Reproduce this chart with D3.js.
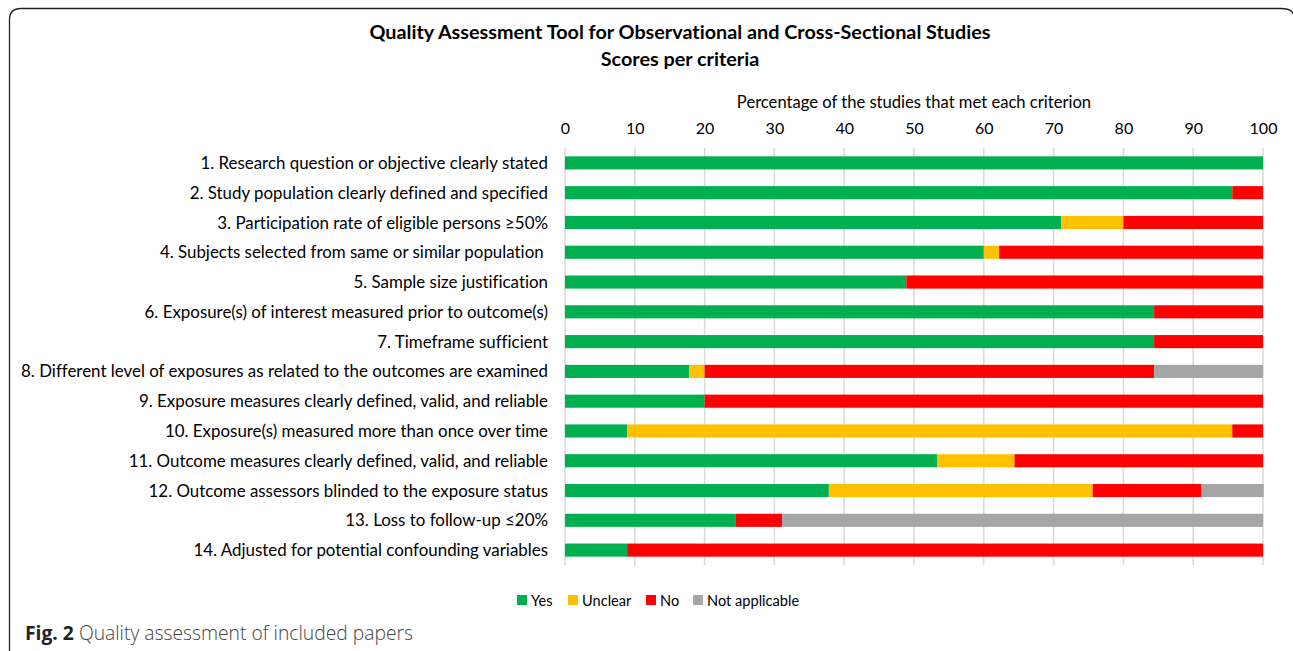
<!DOCTYPE html>
<html>
<head>
<meta charset="utf-8">
<script src="https://cdn.jsdelivr.net/npm/d3@7"></script>
<style>
  body { margin: 0; background: #fff; }
  svg { display: block; font-family: Lato, "Open Sans", sans-serif; font-variant-ligatures: none; }
</style>
</head>
<body>
<div id="chart"></div>
<script>
// criteria (y categories)
var criteria = [
  "1. Research question or objective clearly stated",
  "2. Study population clearly defined and specified",
  "3. Participation rate of eligible persons \u226550%",
  "4. Subjects selected from same or similar population ",
  "5. Sample size justification",
  "6. Exposure(s) of interest measured prior to outcome(s)",
  "7. Timeframe sufficient",
  "8. Different level of exposures as related to the outcomes are examined",
  "9. Exposure measures clearly defined, valid, and reliable",
  "10. Exposure(s) measured more than once over time",
  "11. Outcome measures clearly defined, valid, and reliable",
  "12. Outcome assessors blinded to the exposure status",
  "13. Loss to follow-up \u226420%",
  "14. Adjusted for potential confounding variables"
];

// series values (percent of studies)
var yesVals     = [100, 95.6, 71.1, 60.0, 48.9, 84.4, 84.4, 17.8, 20.0, 8.9, 53.3, 37.8, 24.4, 8.9];
var unclearVals = [0,   0,    8.9,  2.2,  0,    0,    0,    2.2,  0,    86.7, 11.1, 37.8, 0,  0];
var noVals      = [0,   4.4,  20.0, 37.8, 51.1, 15.6, 15.6, 64.4, 80.0, 4.4,  35.6, 15.6, 6.7, 91.1];
var naVals      = [0,   0,    0,    0,    0,    0,    0,    15.6, 0,    0,    0,    8.9,  68.9, 0];

var seriesNames = ["Yes", "Unclear", "No", "Not applicable"];
var seriesColors = ["#00b050", "#ffc000", "#ff0000", "#a6a6a6"];
var xTicks = [0, 10, 20, 30, 40, 50, 60, 70, 80, 90, 100];

var W = 1293, H = 651;

var svg = d3.select("#chart").append("svg")
    .attr("width", W)
    .attr("height", H);

// outer frame
svg.append("path")
    .attr("d", "M9.5,651 L9.5,20 Q9.5,8.5 21,8.5 L1280,8.5 Q1292,8.5 1293,14")
    .attr("fill", "none")
    .attr("stroke", "#222")
    .attr("stroke-width", 1.3);

// title
svg.append("text")
    .attr("x", 680).attr("y", 39)
    .attr("text-anchor", "middle")
    .style("font-weight", "bold")
    .style("font-size", "19.8px")
    .text("Quality Assessment Tool for Observational and Cross-Sectional Studies");
svg.append("text")
    .attr("x", 680).attr("y", 66)
    .attr("text-anchor", "middle")
    .style("font-weight", "bold")
    .style("font-size", "19.8px")
    .text("Scores per criteria");

// build stacked table
var table = criteria.map(function(c, i) {
  return { crit: c, "Yes": yesVals[i], "Unclear": unclearVals[i], "No": noVals[i], "Not applicable": naVals[i] };
});
var stacked = d3.stack().keys(seriesNames)(table);

var x = d3.scaleLinear().domain([0, 100]).range([565, 1263]);
var y = d3.scaleBand().domain(criteria).range([148, 565])
    .paddingInner(0.56).paddingOuter(0.28);
var color = d3.scaleOrdinal().domain(seriesNames).range(seriesColors);

// gridlines
svg.append("g")
    .selectAll("line")
    .data(xTicks)
  .enter().append("line")
    .attr("x1", function(d) { return x(d); })
    .attr("x2", function(d) { return x(d); })
    .attr("y1", 148).attr("y2", 565)
    .attr("stroke", "#d9d9d9")
    .attr("stroke-width", 1.5);

// x axis on top
var xAxis = svg.append("g")
    .attr("transform", "translate(0,148)")
    .call(d3.axisTop(x).tickValues(xTicks).tickSize(0).tickPadding(14));
xAxis.select(".domain").remove();
xAxis.selectAll("text")
    .style("font-family", "Lato, 'Open Sans', sans-serif")
    .style("font-size", "16px")
    .attr("fill", "#000");

svg.append("text")
    .attr("x", x(50)).attr("y", 108)
    .attr("text-anchor", "middle")
    .style("font-size", "16.6px")
    .text("Percentage of the studies that met each criterion");

// y labels (keep trailing spaces like the original)
var yAxis = svg.append("g")
    .attr("transform", "translate(565,0)")
    .call(d3.axisLeft(y).tickSize(0).tickPadding(17));
yAxis.select(".domain").remove();
yAxis.selectAll("text")
    .style("font-family", "Lato, 'Open Sans', sans-serif")
    .style("font-size", "16.9px")
    .style("white-space", "pre")
    .attr("dy", "0.36em")
    .attr("fill", "#000");

// bars
svg.append("g")
    .selectAll("g")
    .data(stacked)
  .enter().append("g")
    .attr("fill", function(d) { return color(d.key); })
    .selectAll("rect")
    .data(function(d) { return d; })
  .enter().append("rect")
    .attr("x", function(d) { return x(d[0]); })
    .attr("width", function(d) { return x(d[1]) - x(d[0]); })
    .attr("y", function(d) { return y(d.data.crit); })
    .attr("height", y.bandwidth());

// legend
var legX = [517, 568, 646, 693];
var legend = svg.selectAll(".legend")
    .data(seriesNames)
  .enter().append("g")
    .attr("class", "legend")
    .attr("transform", function(d, i) { return "translate(" + legX[i] + ",595)"; });
legend.append("rect")
    .attr("width", 10).attr("height", 10)
    .attr("fill", color);
legend.append("text")
    .attr("x", 14).attr("y", 10.5)
    .style("font-size", "14.6px")
    .text(function(d) { return d; });

// caption
var cap = svg.append("text")
    .attr("x", 25).attr("y", 640)
    .style("font-family", "'Open Sans', sans-serif")
    .style("font-size", "19.3px");
cap.append("tspan").style("font-weight", "bold").attr("fill", "#222").text("Fig. 2");
cap.append("tspan").attr("fill", "#444").style("font-weight", "300").text(" Quality assessment of included papers");
</script>
</body>
</html>
